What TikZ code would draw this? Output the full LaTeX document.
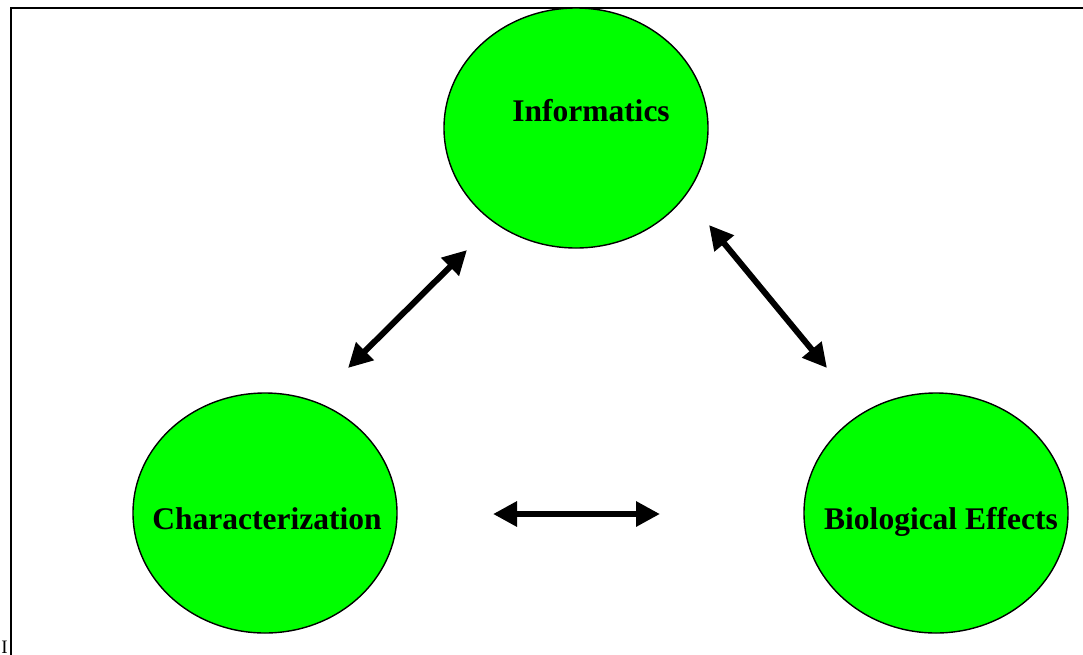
\documentclass[tikz,border=0pt]{standalone}
\usepackage{fontspec}
\setmainfont{Liberation Serif}
\usetikzlibrary{shapes.geometric,arrows.meta}
\begin{document}
\begin{tikzpicture}[x=1pt,y=-1pt,
  blob/.style={ellipse,draw=black,line width=1.4pt,fill=green,minimum width=264pt,minimum height=240pt,inner sep=0pt},
  lbl/.style={font=\fontsize{31.5}{36}\selectfont\bfseries,inner sep=0pt,anchor=base},
  link/.style={line width=6pt,{Triangle[length=24pt,width=24pt]}-{Triangle[length=24pt,width=24pt]}}]
\useasboundingbox (0,0) rectangle (1083,654);
\draw[line width=2pt] (10.5,660) -- (10.5,8) -- (1090,8);
\node[blob] (inf) at (576,128) {};
\node[blob] (cha) at (265,513) {};
\node[blob] (bio) at (936,513) {};
\node[lbl] (tinf) at (591,121.5) {Informatics};
\node[lbl] (tcha) at (267,529.5) {Characterization};
\node[lbl] (tbio) at (941,529.5) {Biological Effects};
\node[font=\fontsize{19}{20}\selectfont,inner sep=0pt,anchor=base] (ii) at (4.5,653.5) {I};
\coordinate (a1) at (348,368);
\coordinate (a2) at (467,250);
\coordinate (b1) at (709,225);
\coordinate (b2) at (827,368);
\coordinate (c1) at (493,514);
\coordinate (c2) at (660,514);
\draw[link] (a1) -- (a2);
\draw[link] (b1) -- (b2);
\draw[link] (c1) -- (c2);
\end{tikzpicture}
\end{document}
